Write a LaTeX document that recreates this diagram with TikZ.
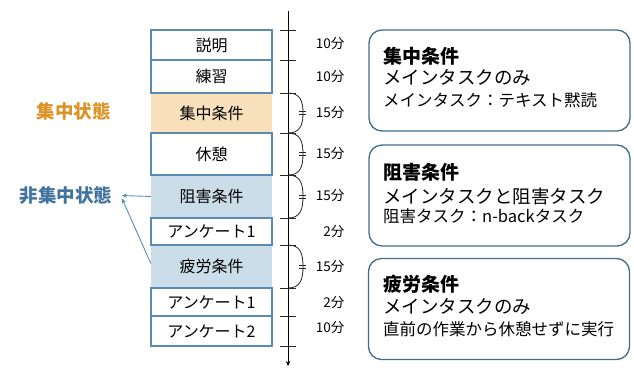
\documentclass[tikz,border=0pt]{standalone}
\usepackage{fontspec}
\setmainfont{Noto Sans CJK JP}
\usetikzlibrary{arrows.meta}
\definecolor{boxblue}{RGB}{91,139,181}
\definecolor{fillorange}{RGB}{248,225,186}
\definecolor{fillblue}{RGB}{204,221,234}
\definecolor{txtorange}{RGB}{221,146,38}
\definecolor{txtblue}{RGB}{66,116,160}
\definecolor{arrowblue}{RGB}{84,146,186}
\definecolor{roundblue}{RGB}{62,108,145}
\begin{document}
\begin{tikzpicture}[x=1pt,y=-1pt,
  stepbox/.style={minimum width=121pt, inner sep=0pt, font=\fontsize{16}{16}\selectfont},
  plainbox/.style={stepbox, draw=boxblue, line width=1.3pt, fill=white},
  orangebox/.style={stepbox, fill=fillorange},
  bluebox/.style={stepbox, fill=fillblue},
  timelbl/.style={anchor=east, inner sep=0pt, font=\fontsize{13.5}{13.5}\selectfont},
  condbox/.style={draw=roundblue, line width=1.3pt, rounded corners=13pt, minimum width=261pt, minimum height=101pt, inner sep=0pt},
  condtitle/.style={anchor=west, inner sep=0pt, font=\fontsize{19}{19}\selectfont\bfseries},
  condline/.style={anchor=west, inner sep=0pt, font=\fontsize{18.5}{18.5}\selectfont},
  condsmall/.style={anchor=west, inner sep=0pt, font=\fontsize{16.5}{16.5}\selectfont},
  tickline/.style={black!85, line width=0.8pt},
  statelbl/.style={inner sep=0pt, font=\fontsize{18.5}{18.5}\selectfont\bfseries},
  linkarrow/.style={arrowblue, line width=0.9pt, -{Stealth[length=5pt,width=4.5pt]}}
]
\useasboundingbox (0,0) rectangle (634,368);

% filled boxes first
\node[orangebox, minimum height=40pt] (b3) at (211.5,113) {集中条件};
\node[bluebox, minimum height=43pt] (b5) at (211.5,196.5) {阻害条件};
\node[bluebox, minimum height=43pt] (b7) at (211.5,266.5) {疲労条件};
% bordered boxes
\node[plainbox, minimum height=30pt] (b1) at (211.5,45) {説明};
\node[plainbox, minimum height=33pt] (b2) at (211.5,76.5) {練習};
\node[plainbox, minimum height=42pt] (b4) at (211.5,154) {休憩};
\node[plainbox, minimum height=27pt] (b6) at (211.5,231.5) {アンケート1};
\node[plainbox, minimum height=28pt] (b8) at (211.5,302) {アンケート1};
\node[plainbox, minimum height=30pt] (b9) at (211.5,331) {アンケート2};

% timeline
\coordinate (axtop) at (288,11);
\coordinate (axbot) at (288,366);
\draw[black, line width=0.9pt, -{Stealth[length=5pt,width=4.5pt]}] (axtop) -- (axbot);
\foreach \yy in {30,60,93,133,175,218,245,288,316,346}
  \draw[tickline] (280,\yy) -- (296,\yy);
\foreach \ya/\yb in {93/133,133/175,175/218,245/288}{
  \pgfmathsetmacro{\ym}{(\ya+\yb)/2}
  \draw[tickline] (288,\ya) .. controls (300,\ya) and (303,\ya+8) .. (303,\ym)
    .. controls (303,\yb-8) and (300,\yb) .. (288,\yb);
  \draw[tickline, line width=0.6pt] (299,\ym-1.5) -- (306,\ym-1.5);
  \draw[tickline, line width=0.6pt] (299,\ym+1.5) -- (306,\ym+1.5);
}

% durations
\node[timelbl] (t1) at (344.5,44) {10分};
\node[timelbl] (t2) at (344.5,77) {10分};
\node[timelbl] (t3) at (344.5,113) {15分};
\node[timelbl] (t4) at (344.5,154) {15分};
\node[timelbl] (t5) at (344.5,196) {15分};
\node[timelbl] (t6) at (344.5,232) {2分};
\node[timelbl] (t7) at (344.5,267) {15分};
\node[timelbl] (t8) at (344.5,303) {2分};
\node[timelbl] (t9) at (344.5,328) {10分};

% state labels
\node[statelbl, text=txtorange] (sconc) at (73.5,111) {集中状態};
\node[statelbl, text=txtblue] (snconc) at (66,195.5) {非集中状態};
\coordinate (tipa) at (122,195.5);
\coordinate (tipb) at (122,198.5);
\draw[linkarrow] (b5.west) -- (tipa);
\draw[linkarrow] ([yshift=3pt]b7.west) -- (tipb);

% condition boxes
\node[condbox] (r1) at (499.5,80.5) {};
\node[condbox] (r2) at (499.5,195.5) {};
\node[condbox] (r3) at (499,309) {};
\node[condtitle] (r1a) at (383,56) {集中条件};
\node[condline] (r1b) at (383,78) {メインタスクのみ};
\node[condsmall] (r1c) at (383,100) {メインタスク：テキスト黙読};
\node[condtitle] (r2a) at (383,172) {阻害条件};
\node[condline] (r2b) at (383,196) {メインタスクと阻害タスク};
\node[condsmall] (r2c) at (383,216) {阻害タスク：n-backタスク};
\node[condtitle] (r3a) at (383,284) {疲労条件};
\node[condline] (r3b) at (383,307) {メインタスクのみ};
\node[condsmall] (r3c) at (383,329) {直前の作業から休憩せずに実行};
\end{tikzpicture}
\end{document}
